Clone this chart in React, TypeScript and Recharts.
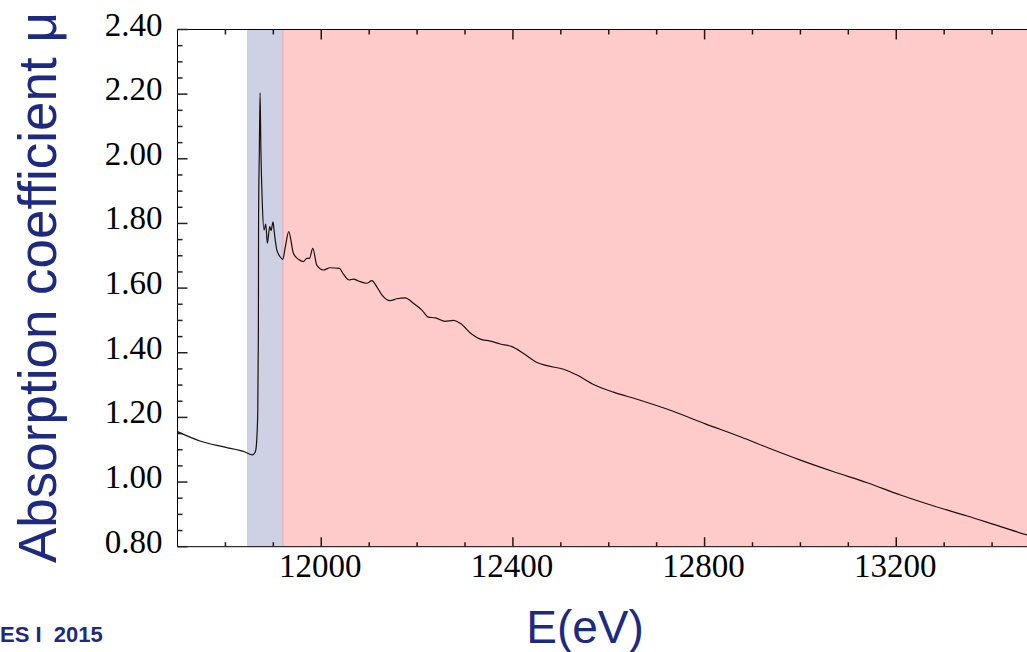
import React from 'react';
import { LineChart, Line, XAxis, YAxis, ReferenceArea, ReferenceLine, Label } from 'recharts';

const energy = [
  11700, 11747, 11799, 11841, 11856, 11862, 11864, 11867.5, 11868.8, 11869.2,
  11870.8, 11872.3, 11874, 11877, 11880.6, 11884.2, 11887.5, 11892.6, 11895.3, 11899.4,
  11902.2, 11907.2, 11914.1, 11919.7, 11924.5, 11932.2, 11941.8, 11952.3, 11962.7, 11969.8,
  11975.3, 11982.4, 11990.7, 12004.5, 12018.5, 12037.9, 12046.3, 12058.2, 12067.1, 12077.6,
  12095.1, 12105.6, 12116, 12126.5, 12143.8, 12157.8, 12175.1, 12192.4, 12210, 12223.8,
  12237.8, 12258.7, 12276, 12290, 12314.4, 12331.7, 12352.6, 12373.5, 12397.9, 12422.2,
  12450.2, 12471, 12505.7, 12533.7, 12568.4, 12610.1, 12659, 12728.5, 12801.6, 12874.7,
  12937.4, 13000, 13069.6, 13139.3, 13208.9, 13278.5, 13348.2, 13417.7, 13474, 13500,
];

const mu = [
  1.156, 1.127, 1.108, 1.093, 1.084, 1.092, 1.105, 1.214, 1.47, 1.817,
  2.027, 2.204, 2.03, 1.862, 1.78, 1.798, 1.739, 1.79, 1.778, 1.805,
  1.77, 1.718, 1.697, 1.689, 1.723, 1.775, 1.708, 1.689, 1.682, 1.692,
  1.692, 1.723, 1.671, 1.656, 1.663, 1.661, 1.643, 1.625, 1.628, 1.622,
  1.615, 1.623, 1.604, 1.579, 1.561, 1.567, 1.57, 1.553, 1.532, 1.51,
  1.508, 1.497, 1.5, 1.491, 1.457, 1.442, 1.436, 1.427, 1.419, 1.398,
  1.37, 1.36, 1.349, 1.331, 1.302, 1.278, 1.256, 1.222, 1.18, 1.14,
  1.103, 1.068, 1.032, 0.998, 0.96, 0.926, 0.895, 0.862, 0.836, 0.826,
];

const xMajorTicks = [12000, 12400, 12800, 13200];
const xMinorTicks = [11800, 11900, 12100, 12200, 12300, 12500, 12600, 12700, 12900, 13000, 13100, 13300, 13400];
const yMajorTicks = [0.8, 1.0, 1.2, 1.4, 1.6, 1.8, 2.0, 2.2, 2.4];
const yMinorTicks = [
  0.85, 0.9, 0.95, 1.05, 1.1, 1.15, 1.25, 1.3, 1.35, 1.45, 1.5, 1.55,
  1.65, 1.7, 1.75, 1.85, 1.9, 1.95, 2.05, 2.1, 2.15, 2.25, 2.3, 2.35,
];
const xDomain = [11700, 13500];
const yDomain = [0.8, 2.4];
const edgeRegion = [11845, 11920];
const exafsRegion = [11920, 13500];

const xLabel = 'E(eV)';
const yLabel = 'Absorption coefficient \u03bc';
const footer = 'ES I  2015';

const NAVY = '#1d2a80';
const SERIF = '"Liberation Serif", "Times New Roman", serif';
const SANS = '"Liberation Sans", Arial, sans-serif';
const TICK_COLOR = '#2b1414';

const data = energy.map((e, i) => ({ e, mu: mu[i] }));
const xTicks = [...xMajorTicks, ...xMinorTicks].sort((a, b) => a - b);
const yTicks = [...yMajorTicks, ...yMinorTicks].sort((a, b) => a - b);
const isMajorX = (v: number) => xMajorTicks.indexOf(Number(v)) >= 0;
const isMajorY = (v: number) => yMajorTicks.some((m) => Math.abs(m - Number(v)) < 1e-6);

const CHART_W = 1060;
const CHART_H = 652;
const MARGIN = { top: 28.5, right: 20, bottom: 45.3, left: 77.5 };

const BottomTick = (props: any) => {
  const { x, y, payload } = props;
  const major = isMajorX(payload.value);
  const len = major ? 9.5 : 4.5;
  return (
    <g>
      <path d={`M${x},${y}V${y - len}`} stroke={TICK_COLOR} strokeWidth={1.5} fill="none" />
      {major && (
        <text x={x - 1} y={y + 30} textAnchor="middle" fontFamily={SERIF} fontSize={33} fill="#000">
          {payload.value}
        </text>
      )}
    </g>
  );
};

const TopTick = (props: any) => {
  const { x, y, payload } = props;
  const major = isMajorX(payload.value);
  const len = major ? 10 : 5;
  return (
    <g>
      <path d={`M${x},${y}V${y + len}`} stroke={TICK_COLOR} strokeWidth={1.5} fill="none" />
    </g>
  );
};

const LeftTick = (props: any) => {
  const { x, y, payload } = props;
  const major = isMajorY(payload.value);
  const len = major ? 10 : 5;
  return (
    <g>
      <path d={`M${x},${y}H${x + len}`} stroke="#222" strokeWidth={1.5} fill="none" />
      {major && (
        <text x={x - 15} y={y + 6} textAnchor="end" fontFamily={SERIF} fontSize={33} fill="#000">
          {Number(payload.value).toFixed(2)}
        </text>
      )}
    </g>
  );
};

const XTitle = () => (
  <g>
    <text x={585} y={643} textAnchor="middle" fontFamily={SANS} fontSize={46} fill={NAVY}>
      {xLabel}
    </text>
    <text
      x={0}
      y={642}
      textAnchor="start"
      fontFamily={SANS}
      fontWeight="bold"
      fontSize={22}
      fill={NAVY}
      style={{ whiteSpace: 'pre' }}
      xmlSpace="preserve"
    >
      {footer}
    </text>
  </g>
);

const YTitle = () => (
  <text
    x={0}
    y={0}
    transform="translate(56,563) rotate(-90)"
    textAnchor="start"
    fontFamily={SANS}
    fontSize={53}
    fill={NAVY}
  >
    {yLabel}
  </text>
);

const layer: React.CSSProperties = { position: 'absolute', left: 0, top: 0 };

export default function App() {
  return (
    <div
      style={{
        position: 'fixed',
        left: 0,
        top: 0,
        width: 1027,
        height: 652,
        overflow: 'hidden',
        background: '#fff',
      }}
    >
      <div style={layer}>
        <LineChart width={CHART_W} height={CHART_H} data={data} margin={MARGIN}>
          <XAxis dataKey="e" type="number" domain={xDomain} allowDataOverflow height={60} tick={false} tickLine={false} axisLine={false} />
          <XAxis xAxisId="top" orientation="top" dataKey="e" type="number" domain={xDomain} allowDataOverflow height={1} tick={false} tickLine={false} axisLine={false} />
          <YAxis type="number" domain={yDomain} allowDataOverflow width={100} tick={false} tickLine={false} axisLine={false} />
          <ReferenceArea x1={edgeRegion[0]} x2={edgeRegion[1]} y1={yDomain[0]} y2={yDomain[1]} fill="#cdd1e3" fillOpacity={1} stroke="none" ifOverflow="hidden" />
          <ReferenceArea x1={exafsRegion[0]} x2={exafsRegion[1]} y1={yDomain[0]} y2={yDomain[1]} fill="#ffcaca" fillOpacity={1} stroke="none" ifOverflow="hidden" />
          <ReferenceLine x={exafsRegion[0]} stroke="#e3a9b6" strokeWidth={1} />
        </LineChart>
      </div>
      <div style={layer}>
        <LineChart width={CHART_W} height={CHART_H} data={data} margin={MARGIN}>
          <XAxis
            dataKey="e"
            type="number"
            domain={xDomain}
            allowDataOverflow
            ticks={xTicks}
            interval={0}
            height={60}
            tickSize={0}
            tickMargin={0}
            tickLine={false}
            axisLine={{ stroke: '#000', strokeWidth: 1 }}
            tick={(p: any) => <BottomTick {...p} />}
          >
            <Label content={<XTitle />} />
          </XAxis>
          <XAxis
            xAxisId="top"
            orientation="top"
            dataKey="e"
            type="number"
            domain={xDomain}
            allowDataOverflow
            ticks={xTicks}
            interval={0}
            height={1}
            tickSize={0}
            tickMargin={0}
            tickLine={false}
            axisLine={{ stroke: '#000', strokeWidth: 1 }}
            tick={(p: any) => <TopTick {...p} />}
          />
          <YAxis
            type="number"
            domain={yDomain}
            allowDataOverflow
            ticks={yTicks}
            interval={0}
            width={100}
            tickSize={0}
            tickMargin={0}
            tickLine={false}
            axisLine={{ stroke: '#000', strokeWidth: 1 }}
            tick={(p: any) => <LeftTick {...p} />}
          >
            <Label content={<YTitle />} />
          </YAxis>
          <Line dataKey="mu" type="monotone" stroke="#1a1010" strokeWidth={1.2} dot={false} activeDot={false} isAnimationActive={false} />
        </LineChart>
      </div>
    </div>
  );
}
